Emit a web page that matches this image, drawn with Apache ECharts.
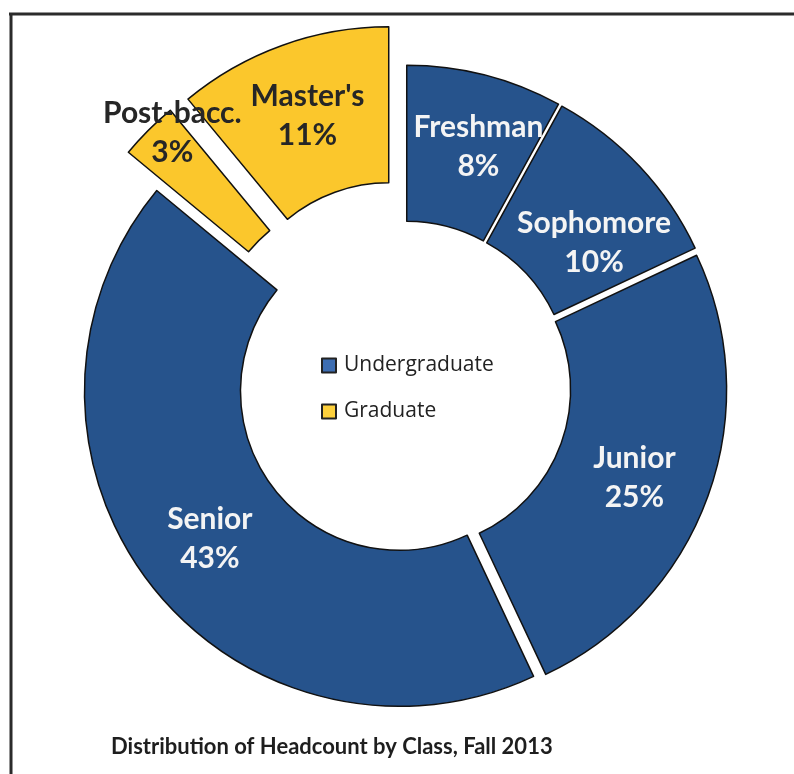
<!DOCTYPE html>
<html>
<head>
<meta charset="utf-8">
<script src="https://cdn.jsdelivr.net/npm/echarts@6/dist/echarts.min.js"></script>
<style>
  html, body { margin: 0; padding: 0; background: #fff; }
  #chart { width: 794px; height: 774px; }
</style>
</head>
<body>
<div id="chart"></div>
<script>
// headcount share by class, Fall 2013 (percent)
const classNames = ['Freshman', 'Sophomore', 'Junior', 'Senior', 'Post-bacc.', "Master's"];
const classShare = [8, 10, 25, 43, 3, 11];
const classGroup = ['Undergraduate', 'Undergraduate', 'Undergraduate', 'Undergraduate', 'Graduate', 'Graduate'];
const groupNames = ['Undergraduate', 'Graduate'];

// styles
const groupColor = { Undergraduate: '#26538c', Graduate: '#fbc72c' };
const legendColor = { Undergraduate: '#3d6db1', Graduate: '#fdd03c' };
const labelColor = { Undergraduate: '#f4f4f4', Graduate: '#262626' };
// nudge some labels to where the original puts them
const labelShift = { 'Freshman': [12, -1], 'Sophomore': [9, 25], 'Junior': [-3, 7], 'Post-bacc.': [-29, -51] };
const fontFam = 'Lato';

// one ring per group, so each group can have its own explode distance
function ring(group, offset) {
  return {
    type: 'pie',
    name: group + ' ring',
    center: [405, 387],
    radius: [159, 315],
    startAngle: 90,
    clockwise: true,
    selectedMode: 'multiple',
    selectedOffset: offset,
    silent: true,
    animation: false,
    label: {
      show: true,
      position: 'inside',
      fontFamily: fontFam,
      fontWeight: 'bold',
      fontSize: 30,
      lineHeight: 39,
      formatter: p => p.name + '\n' + p.value + '%',
    },
    labelLine: { show: false },
    labelLayout: function (p) {
      const s = labelShift[classNames[p.dataIndex]];
      return s ? { dx: s[0], dy: s[1] } : {};
    },
    data: classNames.map((n, i) => {
      const mine = classGroup[i] === group;
      return {
        name: n,
        value: classShare[i],
        selected: mine,
        itemStyle: mine
          ? { color: groupColor[group], borderColor: '#111', borderWidth: 1.5 }
          : { color: 'rgba(0,0,0,0)', borderWidth: 0 },
        label: mine ? { color: labelColor[group] } : { show: false },
      };
    }),
  };
}

// empty series only used to feed the legend
const legendSeries = groupNames.map(g => ({
  type: 'pie',
  name: g,
  data: [],
  showEmptyCircle: false,
  silent: true,
  itemStyle: { color: legendColor[g], borderColor: '#222', borderWidth: 1 },
}));

const chart = echarts.init(document.getElementById('chart'));
chart.setOption({
  backgroundColor: '#fff',
  title: {
    text: 'Distribution of Headcount by Class, Fall 2013',
    left: 106,
    top: 731,
    textStyle: { fontFamily: fontFam, fontWeight: 'bold', fontSize: 22, color: '#1e1e1e' },
  },
  legend: {
    data: groupNames,
    orient: 'vertical',
    left: 316,
    top: 350,
    itemWidth: 14,
    itemHeight: 14,
    itemGap: 25,
    icon: 'rect',
    selectedMode: false,
    textStyle: { fontFamily: 'Open Sans', fontSize: 21, color: '#222', padding: [0, 0, 0, 3] },
  },
  graphic: [
    { type: 'line', shape: { x1: 9, y1: 14, x2: 794, y2: 14 }, style: { stroke: '#2b2b2b', lineWidth: 3 } },
    { type: 'line', shape: { x1: 11, y1: 13, x2: 11, y2: 774 }, style: { stroke: '#2b2b2b', lineWidth: 3 } },
  ],
  series: [ring('Undergraduate', 7), ring('Graduate', 48)].concat(legendSeries),
});
</script>
</body>
</html>
